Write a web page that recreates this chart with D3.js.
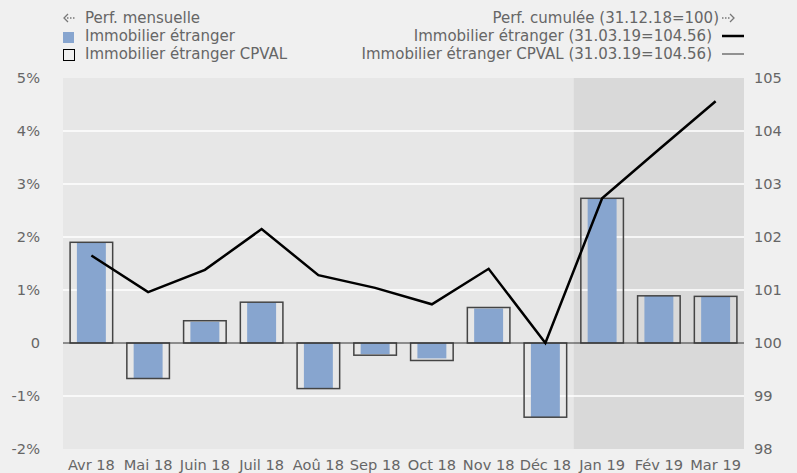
<!DOCTYPE html>
<html>
<head>
<meta charset="utf-8">
<script src="https://cdn.jsdelivr.net/npm/d3@7"></script>
<style>
  body { margin: 0; background: #f0f0f0; }
  svg { display: block; font-family: "DejaVu Sans", Verdana, sans-serif; }
  text { fill: #666; }
</style>
</head>
<body>
<svg id="chart"></svg>
<script>
const months = ["Avr 18", "Mai 18", "Juin 18", "Juil 18", "Aoû 18", "Sep 18", "Oct 18", "Nov 18", "Déc 18", "Jan 19", "Fév 19", "Mar 19"];
// monthly performance in %
const perfFund = [1.90, -0.67, 0.40, 0.77, -0.86, -0.21, -0.29, 0.65, -1.40, 2.73, 0.89, 0.88];
const perfCpval = [1.90, -0.67, 0.42, 0.77, -0.86, -0.23, -0.33, 0.67, -1.40, 2.73, 0.89, 0.88];
// cumulative (31.12.18 = 100)
const cumul = [101.65, 100.96, 101.38, 102.15, 101.28, 101.04, 100.73, 101.40, 100.00, 102.73, 103.65, 104.56];
const leftTicks = [-2, -1, 0, 1, 2, 3, 4, 5];
const rightTicks = [98, 99, 100, 101, 102, 103, 104, 105];
const shadedFrom = "Jan 19";

const dimensions = {
  width: 797,
  height: 473,
  margin: { top: 78, right: 53, bottom: 24, left: 63 },
};
dimensions.innerW = dimensions.width - dimensions.margin.left - dimensions.margin.right;
dimensions.innerH = dimensions.height - dimensions.margin.top - dimensions.margin.bottom;

const svg = d3.select("#chart")
  .attr("width", dimensions.width)
  .attr("height", dimensions.height);

const g = svg.append("g")
  .attr("transform", `translate(${dimensions.margin.left},${dimensions.margin.top})`);

const x = d3.scaleBand().domain(months).range([0, dimensions.innerW]);
const yL = d3.scaleLinear().domain([-2, 5]).range([dimensions.innerH, 0]);
const yR = d3.scaleLinear().domain([98, 105]).range([dimensions.innerH, 0]);

// backgrounds
g.append("rect").attr("width", dimensions.innerW).attr("height", dimensions.innerH).attr("fill", "#e7e7e7");
g.append("rect")
  .attr("x", x(shadedFrom))
  .attr("width", dimensions.innerW - x(shadedFrom))
  .attr("height", dimensions.innerH)
  .attr("fill", "#d9d9d9");

// grid
g.selectAll(".grid")
  .data(leftTicks.filter(d => d !== 0 && d !== -2 && d !== 5))
  .join("line")
  .attr("x1", 0).attr("x2", dimensions.innerW)
  .attr("y1", d => yL(d)).attr("y2", d => yL(d))
  .attr("stroke", "#fff").attr("stroke-width", 1.5);

// bars
const bw = x.bandwidth();
g.selectAll(".fund")
  .data(months)
  .join("rect")
  .attr("x", d => x(d) + bw * 0.245)
  .attr("width", bw * 0.51)
  .attr("y", (d, i) => yL(Math.max(0, perfFund[i])))
  .attr("height", (d, i) => Math.abs(yL(perfFund[i]) - yL(0)))
  .attr("fill", "#87a5cf");

g.selectAll(".cpval")
  .data(months)
  .join("rect")
  .attr("x", d => x(d) + bw * 0.125)
  .attr("width", bw * 0.75)
  .attr("y", (d, i) => yL(Math.max(0, perfCpval[i])))
  .attr("height", (d, i) => Math.abs(yL(perfCpval[i]) - yL(0)))
  .attr("fill", "none")
  .attr("stroke", "#444")
  .attr("stroke-width", 1.5);

// zero line
g.append("line")
  .attr("x1", 0).attr("x2", dimensions.innerW)
  .attr("y1", yL(0)).attr("y2", yL(0))
  .attr("stroke", "#333").attr("stroke-width", 1);

// cumulative line
const line = d3.line()
  .x((d, i) => x(months[i]) + bw / 2)
  .y(d => yR(d));
g.append("path")
  .datum(cumul)
  .attr("d", line)
  .attr("fill", "none")
  .attr("stroke", "#000")
  .attr("stroke-width", 2.5);

// axes
const fmtL = d => d === 0 ? "0" : (d < 0 ? "-" + Math.abs(d) : d) + "%";
const axL = g.append("g").call(d3.axisLeft(yL).tickValues(leftTicks).tickFormat(fmtL).tickSize(0).tickPadding(23));
const axR = g.append("g").attr("transform", `translate(${dimensions.innerW},0)`)
  .call(d3.axisRight(yR).tickValues(rightTicks).tickFormat(d3.format("d")).tickSize(0).tickPadding(10));
const axB = g.append("g").attr("transform", `translate(0,${dimensions.innerH})`)
  .call(d3.axisBottom(x).tickSize(0).tickPadding(11));
[axL, axR, axB].forEach(a => {
  a.select(".domain").remove();
  a.selectAll("text").attr("font-size", 14.6).attr("font-family", "DejaVu Sans, Verdana, sans-serif").style("fill", "#666");
});

// legend
const lg = svg.append("g").attr("font-size", 15);
// dotted arrows
const arrow = (x0, dir) => {
  const tip = dir < 0 ? x0 : x0 + 12;
  lg.append("line").attr("x1", x0 + (dir < 0 ? 3 : 0)).attr("x2", x0 + (dir < 0 ? 12 : 9))
    .attr("y1", 18).attr("y2", 18).attr("stroke", "#777").attr("stroke-width", 1.3).attr("stroke-dasharray", "1.5,1.5");
  lg.append("path").attr("d", `M${tip - dir * 4},14 L${tip},18 L${tip - dir * 4},22`)
    .attr("fill", "none").attr("stroke", "#777").attr("stroke-width", 1.3);
};
arrow(64, -1);
lg.append("text").attr("x", 85).attr("y", 23).text("Perf. mensuelle");
lg.append("rect").attr("x", 63).attr("y", 32).attr("width", 11).attr("height", 11).attr("fill", "#87a5cf");
lg.append("text").attr("x", 85).attr("y", 41).text("Immobilier étranger");
lg.append("rect").attr("x", 63.5).attr("y", 49.5).attr("width", 11).attr("height", 11).attr("fill", "none").attr("stroke", "#000");
lg.append("text").attr("x", 85).attr("y", 59).text("Immobilier étranger CPVAL");

lg.append("text").attr("x", 719).attr("y", 23).attr("text-anchor", "end").text("Perf. cumulée (31.12.18=100)");
arrow(722, 1);
lg.append("text").attr("x", 712).attr("y", 41).attr("text-anchor", "end").text("Immobilier étranger (31.03.19=104.56)");
lg.append("line").attr("x1", 722).attr("x2", 744).attr("y1", 36).attr("y2", 36).attr("stroke", "#000").attr("stroke-width", 2.5);
lg.append("text").attr("x", 712).attr("y", 59).attr("text-anchor", "end").text("Immobilier étranger CPVAL (31.03.19=104.56)");
lg.append("line").attr("x1", 722).attr("x2", 744).attr("y1", 54).attr("y2", 54).attr("stroke", "#333").attr("stroke-width", 1);
</script>
</body>
</html>
